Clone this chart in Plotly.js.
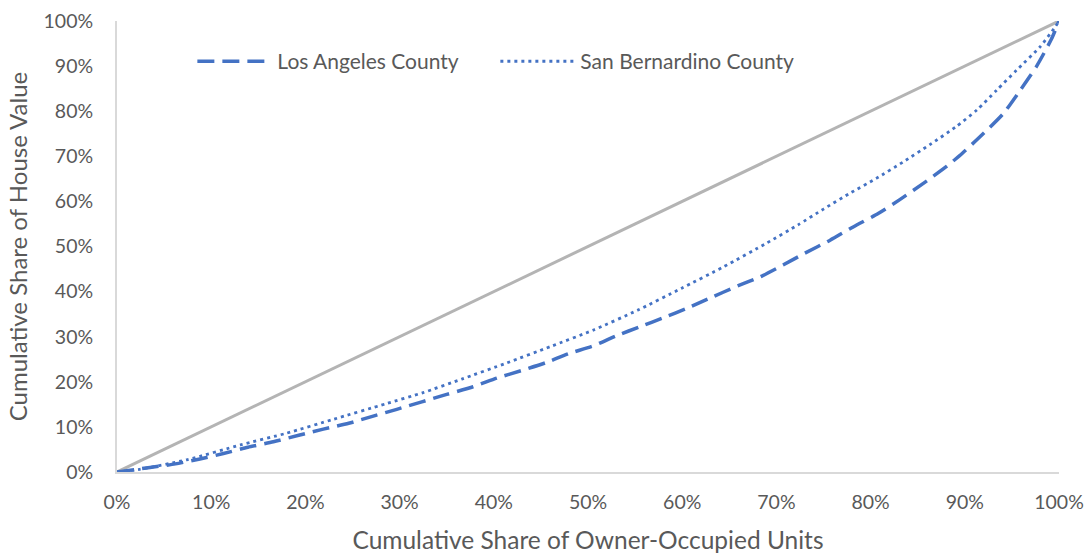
<!DOCTYPE html>
<html>
<head>
<meta charset="utf-8">
<script src="https://cdn.plot.ly/plotly-3.0.1.min.js"></script>
<style>html,body{margin:0;padding:0;background:#fff;}#chart{width:1090px;height:556px;}</style>
</head>
<body>
<div id="chart"></div>
<script>
// Cumulative share of owner-occupied units (%)
const laX = [0, 3.5, 6.2, 8.8, 11.3, 13.9, 16.6, 19.4, 21.9, 24.6, 27.2, 29.7, 35.0, 37.8, 40.3, 43.1, 45.6, 47.9, 50.6, 53.0, 55.5, 58.0, 60.5, 63.1, 65.6, 68.3, 70.7, 73.0, 75.7, 78.2, 80.8, 83.1, 85.6, 88.1, 89.8, 92.0, 94.1, 95.9, 97.6, 99.2, 100];
const laY = [0, 1.0, 1.8, 2.9, 4.1, 5.5, 6.7, 8.2, 9.5, 10.8, 12.4, 13.9, 17.2, 18.9, 20.8, 22.6, 24.3, 26.2, 28.0, 30.2, 32.2, 34.2, 36.3, 38.7, 41.0, 43.3, 45.9, 48.5, 51.4, 54.4, 57.3, 60.4, 64.0, 67.8, 70.8, 75.1, 79.5, 84.7, 89.9, 96.0, 100];

const sbX = [0, 2.4, 7.4, 13.1, 18.0, 23.0, 28.5, 32.5, 36.6, 41.4, 46.0, 50.6, 55.3, 59.9, 64.4, 69.0, 72.3, 75.0, 77.8, 80.6, 83.5, 86.3, 89.1, 91.3, 93.4, 95.5, 98.0, 99.6, 100];
const sbY = [0, 0.6, 2.7, 6.0, 8.6, 11.7, 15.1, 17.6, 20.6, 24.2, 27.8, 31.5, 35.9, 40.7, 45.5, 50.8, 54.8, 58.3, 61.8, 65.1, 68.8, 72.6, 76.6, 80.3, 84.7, 89.1, 94.3, 98.7, 100];

const eqX = [0, 100];
const eqY = [0, 100];

const seriesNames = ["Los Angeles County", "San Bernardino County"];
const xTitle = "Cumulative Share of Owner-Occupied Units";
const yTitle = "Cumulative Share of House Value";

const pct = a => a.map(v => v / 100);
const FONT = "Lato, 'Liberation Sans', sans-serif";
const GREY = "#595959";

const traces = [
  {x: pct(eqX), y: pct(eqY), mode: "lines", showlegend: false, hoverinfo: "skip",
   line: {color: "#b4b4b4", width: 3}, cliponaxis: false},
  {x: pct(laX), y: pct(laY), mode: "lines", name: seriesNames[0],
   line: {color: "#4472C4", width: 3.5, dash: "17px,8px", shape: "spline", smoothing: 0.6}, cliponaxis: false},
  {x: pct(sbX), y: pct(sbY), mode: "lines", name: seriesNames[1],
   line: {color: "#4472C4", width: 2.8, dash: "3px,4px", shape: "spline", smoothing: 0.6}, cliponaxis: false}
];

const layout = {
  width: 1090, height: 556,
  margin: {l: 117, r: 31, t: 21, b: 84},
  paper_bgcolor: "#fff", plot_bgcolor: "#fff",
  font: {family: FONT, color: GREY, size: 19},
  showlegend: true,
  legend: {orientation: "h", x: 0.08, y: 0.91, xanchor: "left", yanchor: "middle",
           font: {size: 21, color: GREY}, bgcolor: "rgba(0,0,0,0)", itemwidth: 75, entrywidth: 213},
  xaxis: {range: [0, 1], tickvals: [0,0.1,0.2,0.3,0.4,0.5,0.6,0.7,0.8,0.9,1], tickformat: ".0%",
          showgrid: false, zeroline: false, showline: true, linecolor: "#d9d9d9", linewidth: 2,
          ticks: "outside", ticklen: 12, tickcolor: "rgba(0,0,0,0)",
          tickfont: {size: 19.5, color: GREY},
          title: {text: xTitle, font: {size: 24.5, color: GREY}, standoff: 19}},
  yaxis: {range: [0, 1], tickvals: [0,0.1,0.2,0.3,0.4,0.5,0.6,0.7,0.8,0.9,1], tickformat: ".0%",
          showgrid: false, zeroline: false, showline: true, linecolor: "#d9d9d9", linewidth: 2,
          ticks: "outside", ticklen: 18, tickcolor: "rgba(0,0,0,0)",
          tickfont: {size: 19.5, color: GREY},
          title: {text: yTitle, font: {size: 24, color: GREY}, standoff: 9}}
};

Plotly.newPlot("chart", traces, layout, {displayModeBar: false, staticPlot: true});
</script>
</body>
</html>
